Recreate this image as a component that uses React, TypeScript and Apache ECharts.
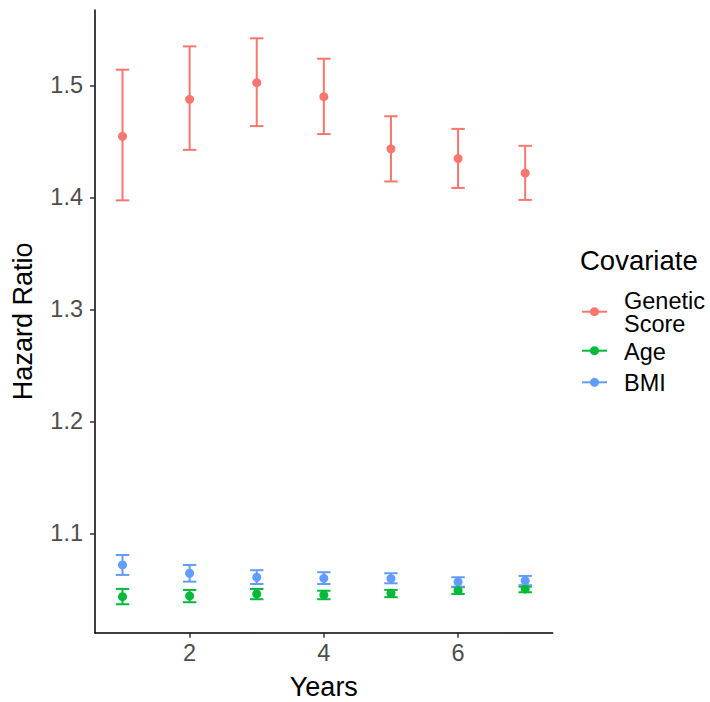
import React, { useEffect, useRef } from "react";
import * as echarts from "echarts";

const years = [1, 2, 3, 4, 5, 6, 7];
const seriesNames = ["Genetic Score", "Age", "BMI"];
const seriesColors = ["#F8766D", "#00BA38", "#619CFF"];

const geneticHR = [1.4545, 1.4875, 1.5024, 1.4899, 1.4433, 1.4347, 1.4217];
const geneticLo = [1.3973, 1.4424, 1.4636, 1.4565, 1.4142, 1.4084, 1.3977];
const geneticHi = [1.514, 1.5348, 1.542, 1.5238, 1.4724, 1.4611, 1.446];

const ageHR = [1.0434, 1.044, 1.0458, 1.0449, 1.0464, 1.0488, 1.0503];
const ageLo = [1.0366, 1.0384, 1.0411, 1.0411, 1.0429, 1.0458, 1.0473];
const ageHi = [1.0503, 1.0494, 1.0503, 1.0487, 1.0494, 1.0518, 1.0523];

const bmiHR = [1.0717, 1.0643, 1.0607, 1.0598, 1.0595, 1.0565, 1.0577];
const bmiLo = [1.0628, 1.0568, 1.0547, 1.0547, 1.0553, 1.0523, 1.0536];
const bmiHi = [1.0806, 1.0717, 1.067, 1.0652, 1.0643, 1.0607, 1.0619];

const yTicks = [1.1, 1.2, 1.3, 1.4, 1.5];
const xTicks = [2, 4, 6];
const legendLabels = ["Genetic\nScore", "Age", "BMI"];

const FONT = "'Liberation Sans', Arial, Helvetica, sans-serif";

export default function App() {
  const ref = useRef<HTMLDivElement>(null);
  useEffect(() => {
    if (!ref.current) return;
    const chart = echarts.init(ref.current, null, { renderer: "svg" });
    const groups = [
      { hr: geneticHR, lo: geneticLo, hi: geneticHi },
      { hr: ageHR, lo: ageLo, hi: ageHi },
      { hr: bmiHR, lo: bmiLo, hi: bmiHi },
    ];
    const capHalf = 0.1;
    const series: any[] = [];
    groups.forEach((g, gi) => {
      const color = seriesColors[gi];
      series.push({
        type: "custom",
        name: seriesNames[gi],
        data: years.map((x, i) => [x, g.lo[i], g.hi[i]]),
        encode: { x: 0, y: [1, 2] },
        renderItem: (params: any, api: any) => {
          const x = api.value(0);
          const lo = api.value(1);
          const hi = api.value(2);
          const pLo = api.coord([x, lo]);
          const pHi = api.coord([x, hi]);
          const lLo = api.coord([x - capHalf, lo]);
          const rLo = api.coord([x + capHalf, lo]);
          const lHi = api.coord([x - capHalf, hi]);
          const rHi = api.coord([x + capHalf, hi]);
          const style = { stroke: color, lineWidth: 2, fill: "none" };
          return {
            type: "group",
            children: [
              { type: "line", shape: { x1: pLo[0], y1: pLo[1], x2: pHi[0], y2: pHi[1] }, style },
              { type: "line", shape: { x1: lLo[0], y1: lLo[1], x2: rLo[0], y2: rLo[1] }, style },
              { type: "line", shape: { x1: lHi[0], y1: lHi[1], x2: rHi[0], y2: rHi[1] }, style },
            ],
          };
        },
        z: 2,
      });
      series.push({
        type: "scatter",
        name: seriesNames[gi],
        data: years.map((x, i) => [x, g.hr[i]]),
        symbol: "circle",
        symbolSize: 9,
        itemStyle: { color, opacity: 1 },
        z: 3,
      });
    });

    const legendX = 582;
    const keyYs = [311.7, 350.7, 382.3];
    const labelYs = [312.5, 352.3, 383.3];
    const graphic: any[] = [
      {
        type: "text",
        x: 580,
        y: 260,
        style: { text: "Covariate", font: `27.5px ${FONT}`, fill: "#000", verticalAlign: "middle" },
      },
    ];
    keyYs.forEach((y, i) => {
      graphic.push({
        type: "line",
        shape: { x1: legendX, y1: y, x2: legendX + 25, y2: y },
        style: { stroke: seriesColors[i], lineWidth: 2 },
      });
      graphic.push({
        type: "circle",
        shape: { cx: legendX + 12.5, cy: y, r: 4.5 },
        style: { fill: seriesColors[i] },
      });
    });
    legendLabels.forEach((t, i) => {
      graphic.push({
        type: "text",
        x: 624,
        y: labelYs[i],
        style: {
          text: t,
          font: `23.5px ${FONT}`,
          fill: "#000",
          verticalAlign: "middle",
          lineHeight: 23,
        },
      });
    });

    chart.setOption({
      animation: false,
      textStyle: { fontFamily: FONT },
      grid: { left: 95, right: 157.3, top: 10, bottom: 69.3, containLabel: false, outerBoundsMode: "none" },
      xAxis: {
        type: "value",
        min: 0.59,
        max: 7.41,
        name: "Years",
        nameLocation: "middle",
        nameGap: 41,
        nameTextStyle: { fontSize: 27, color: "#000", fontFamily: FONT },
        axisLine: { show: true, lineStyle: { color: "#000", width: 1.5 } },
        axisTick: { show: true, length: 5, lineStyle: { color: "#333", width: 1.5 }, customValues: xTicks },
        axisLabel: { fontSize: 23.5, color: "#4D4D4D", margin: 8, customValues: xTicks, fontFamily: FONT },
        splitLine: { show: false },
      },
      yAxis: {
        type: "value",
        min: 1.0112,
        max: 1.5673,
        name: "Hazard Ratio",
        nameLocation: "middle",
        nameGap: 59,
        nameRotate: 90,
        nameTextStyle: { fontSize: 27, color: "#000", fontFamily: FONT },
        axisLine: { show: true, lineStyle: { color: "#000", width: 1.5 } },
        axisTick: { show: true, length: 5, lineStyle: { color: "#333", width: 1.5 }, customValues: yTicks },
        axisLabel: {
          fontSize: 23.5,
          color: "#4D4D4D",
          margin: 12,
          customValues: yTicks,
          formatter: (v: number) => v.toFixed(1),
          fontFamily: FONT,
        },
        splitLine: { show: false },
      },
      legend: { show: false },
      series,
      graphic,
    });
    return () => chart.dispose();
  }, []);
  return (
    <div
      ref={ref}
      style={{ position: "absolute", left: 0, top: 0, width: 710, height: 702 }}
    />
  );
}
